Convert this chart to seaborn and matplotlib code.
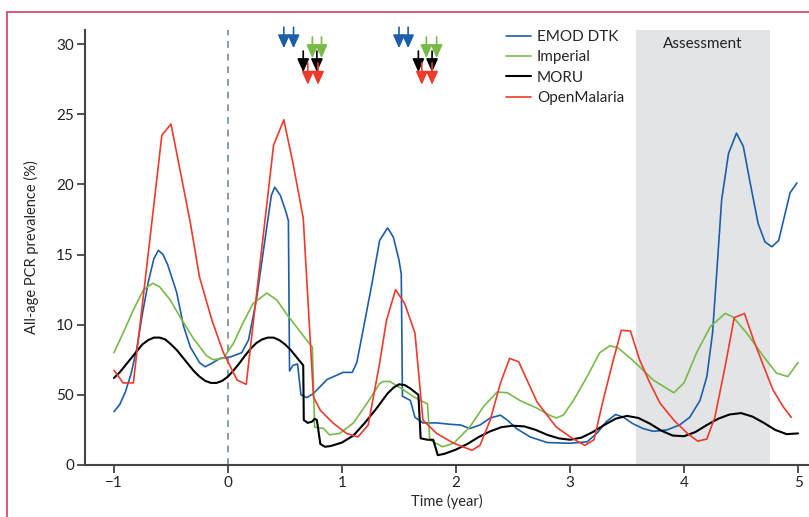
import matplotlib
matplotlib.use("Agg")
import matplotlib.pyplot as plt
import seaborn as sns
import pandas as pd
from matplotlib.lines import Line2D

# --- data ---
emod_x = [-1.0, -0.95, -0.9, -0.85, -0.8, -0.75, -0.7, -0.65, -0.61, -0.57, -0.53, -0.45, -0.39,
          -0.33, -0.25, -0.2, -0.13, -0.07, 0.02, 0.12, 0.18, 0.25, 0.32, 0.38, 0.41, 0.46, 0.51,
          0.53, 0.54, 0.57, 0.61, 0.64, 0.69, 0.75, 0.87, 1.01, 1.09, 1.13, 1.18, 1.26, 1.33,
          1.40, 1.45, 1.50, 1.52, 1.53, 1.6, 1.64, 1.71, 1.83, 1.95, 2.04, 2.12, 2.21, 2.30,
          2.39, 2.45, 2.53, 2.65, 2.80, 3.0, 3.15, 3.24, 3.32, 3.40, 3.47, 3.55, 3.64, 3.73,
          3.85, 3.96, 4.05, 4.14, 4.20, 4.25, 4.29, 4.33, 4.39, 4.46, 4.52, 4.58, 4.65, 4.71,
          4.77, 4.83, 4.88, 4.93, 4.99]
emod_y = [3.8, 4.3, 5.2, 6.5, 8.3, 10.8, 13.0, 14.7, 15.3, 15.0, 14.3, 12.3, 9.9,
          8.4, 7.3, 7.0, 7.3, 7.6, 7.7, 8.0, 8.9, 11.8, 15.8, 19.2, 19.8, 19.2, 18.0,
          17.4, 6.7, 7.1, 7.2, 5.0, 4.8, 5.1, 6.1, 6.6, 6.6, 7.3, 9.4, 12.8, 16.0,
          16.9, 16.25, 14.6, 13.6, 4.9, 4.6, 3.4, 3.0, 3.0, 2.9, 2.85, 2.6, 2.85, 3.35,
          3.55, 3.2, 2.6, 2.0, 1.6, 1.55, 1.65, 2.3, 3.1, 3.6, 3.4, 2.95, 2.6, 2.4,
          2.5, 2.85, 3.4, 4.6, 6.3, 9.4, 14.1, 18.9, 22.2, 23.65, 22.7, 20.1, 17.2, 15.9,
          15.55, 16.0, 17.7, 19.4, 20.1]

imperial_x = [-1.0, -0.92, -0.83, -0.74, -0.66, -0.6, -0.51, -0.42, -0.31, -0.19, -0.13, -0.04,
              0.05, 0.13, 0.22, 0.34, 0.43, 0.51, 0.60, 0.69, 0.74, 0.76, 0.84, 0.89, 0.98,
              1.10, 1.22, 1.33, 1.36, 1.42, 1.54, 1.63, 1.75, 1.77, 1.88, 1.98, 2.12, 2.24,
              2.36, 2.45, 2.56, 2.71, 2.82, 2.88, 2.94, 3.03, 3.15, 3.26, 3.35, 3.42, 3.53,
              3.61, 3.73, 3.82, 3.91, 4.0, 4.11, 4.23, 4.36, 4.43, 4.55, 4.70, 4.81, 4.91, 5.0]
imperial_y = [8.0, 9.4, 11.05, 12.5, 12.95, 12.7, 11.8, 10.55, 9.1, 7.8, 7.5, 7.6,
              8.7, 10.1, 11.5, 12.25, 11.75, 10.8, 9.85, 8.9, 8.4, 2.7, 2.6, 2.15, 2.25,
              3.0, 4.4, 5.8, 5.95, 5.95, 5.35, 4.85, 4.35, 1.8, 1.3, 1.55, 2.7, 4.15,
              5.2, 5.15, 4.6, 4.05, 3.55, 3.35, 3.55, 4.6, 6.3, 8.0, 8.5, 8.35, 7.6,
              7.0, 6.05, 5.6, 5.15, 5.85, 8.0, 9.85, 10.8, 10.55, 9.4, 7.7, 6.55, 6.3, 7.3]

moru_x = [-1.0, -0.95, -0.9, -0.85, -0.8, -0.75, -0.7, -0.65, -0.6, -0.55, -0.5, -0.45, -0.4,
          -0.35, -0.3, -0.25, -0.2, -0.15, -0.1, -0.05, 0.0, 0.05, 0.1, 0.15, 0.2, 0.25, 0.3,
          0.35, 0.4, 0.45, 0.5, 0.55, 0.6, 0.66, 0.665, 0.7, 0.74, 0.76, 0.78, 0.81, 0.85, 0.9,
          1.0, 1.1, 1.2, 1.3, 1.4, 1.45, 1.5, 1.55, 1.6, 1.67, 1.69, 1.75, 1.8, 1.84, 1.9,
          2.0, 2.1, 2.2, 2.3, 2.4, 2.5, 2.6, 2.7, 2.8, 2.9, 3.0, 3.1, 3.2, 3.3, 3.4, 3.5,
          3.6, 3.7, 3.8, 3.9, 4.0, 4.1, 4.2, 4.3, 4.4, 4.5, 4.6, 4.7, 4.8, 4.9, 5.0]
moru_y = [6.2, 6.6, 7.1, 7.6, 8.1, 8.6, 8.9, 9.08, 9.08, 8.95, 8.6, 8.2, 7.7,
          7.2, 6.7, 6.3, 6.0, 5.85, 5.85, 6.0, 6.3, 6.75, 7.25, 7.8, 8.3, 8.7, 8.95,
          9.08, 9.08, 8.9, 8.6, 8.2, 7.7, 7.1, 3.2, 3.0, 3.1, 3.3, 3.2, 1.5, 1.3, 1.35,
          1.6, 2.1, 3.0, 4.0, 5.1, 5.5, 5.75, 5.7, 5.45, 5.0, 1.9, 1.8, 1.8, 0.7, 0.8,
          1.1, 1.5, 2.0, 2.4, 2.7, 2.8, 2.75, 2.5, 2.15, 1.9, 1.8, 1.95, 2.35, 2.85, 3.3, 3.5,
          3.35, 2.95, 2.45, 2.1, 2.05, 2.35, 2.85, 3.3, 3.6, 3.7, 3.45, 3.0, 2.5, 2.2, 2.25]

om_x = [-1.0, -0.92, -0.83, -0.58, -0.50, -0.42, -0.33, -0.25, -0.14, -0.04, 0.08, 0.16,
        0.40, 0.49, 0.57, 0.66, 0.75, 0.81, 0.92, 1.04, 1.14, 1.23, 1.33, 1.39, 1.47, 1.55,
        1.64, 1.71, 1.83, 1.98, 2.14, 2.21, 2.30, 2.39, 2.47, 2.55, 2.71, 2.88, 3.03, 3.13,
        3.21, 3.29, 3.38, 3.45, 3.53, 3.61, 3.70, 3.79, 3.91, 4.03, 4.12, 4.20, 4.27, 4.36,
        4.44, 4.53, 4.61, 4.70, 4.78, 4.87, 4.94]
om_y = [6.75, 5.85, 5.85, 23.5, 24.3, 21.0, 17.25, 13.4, 10.3, 8.0, 6.05, 5.75,
        22.8, 24.6, 21.5, 17.6, 4.85, 3.9, 3.0, 2.25, 2.0, 2.85, 7.25, 10.3, 12.5, 11.5,
        9.4, 3.2, 2.25, 1.55, 1.05, 1.4, 3.2, 5.85, 7.6, 7.35, 4.5, 2.7, 1.85, 1.4,
        1.8, 4.6, 7.5, 9.6, 9.55, 7.5, 5.85, 4.4, 3.2, 2.25, 1.7, 1.85, 3.4, 7.0,
        10.5, 10.8, 8.9, 7.0, 5.35, 4.15, 3.4]

# intervention times marked with arrows
emod_arrows = [0.49, 0.575, 1.5, 1.58]
imperial_arrows = [0.74, 0.82, 1.74, 1.83]
moru_arrows = [0.66, 0.78, 1.67, 1.79]
om_arrows = [0.70, 0.79, 1.70, 1.79]

assessment = (3.58, 4.75)
y_ticks = [0, 5, 10, 15, 20, 25, 30]
y_ticklabels = ["0", "50", "10", "15", "20", "25", "30"]
x_ticks = [-1, 0, 1, 2, 3, 4, 5]

models = ["EMOD DTK", "Imperial", "MORU", "OpenMalaria"]
colors = {"EMOD DTK": "#1d5ea8", "Imperial": "#79b94a",
          "MORU": "#000000", "OpenMalaria": "#ee3a2c"}

series = {"EMOD DTK": (emod_x, emod_y), "Imperial": (imperial_x, imperial_y),
          "MORU": (moru_x, moru_y), "OpenMalaria": (om_x, om_y)}

sns.set_theme(style="white")
plt.rcParams['font.family'] = ['Lato', 'DejaVu Sans']

fig = plt.figure(figsize=(8.09, 5.17), dpi=100)
ax = fig.add_axes([85 / 809, 52 / 517, 724 / 809, 435 / 517])

ax.axvspan(*assessment, color="#e3e4e6", lw=0, zorder=0)
ax.text(sum(assessment) / 2, 30.0, "Assessment", ha="center", va="center",
        fontsize=11, color="#222222")
ax.axvline(0, color="#8a9aa5", lw=1.4, ls=(0, (3.5, 3)), zorder=1)

for m in models:
    xs, ys = series[m]
    df = pd.DataFrame({"time": xs, "prev": ys})
    sns.lineplot(data=df, x="time", y="prev", color=colors[m], label=m,
                 lw=1.5 if m == "MORU" else 1.2, estimator=None, sort=False, ax=ax)

# arrows above the curves
arrow_rows = [(emod_arrows, colors["EMOD DTK"], 31.2, 29.7),
              (imperial_arrows, colors["Imperial"], 30.5, 29.0),
              (moru_arrows, colors["MORU"], 29.5, 28.0),
              (om_arrows, colors["OpenMalaria"], 28.65, 27.1)]
for xs, c, ytop, ytip in arrow_rows:
    for xv in xs:
        ax.annotate("", xy=(xv, ytip), xytext=(xv, ytop), annotation_clip=False,
                    arrowprops=dict(arrowstyle="-|>,head_length=0.8,head_width=0.36",
                                    mutation_scale=10, color=c, lw=1.2,
                                    shrinkA=0, shrinkB=0))

ax.set_xlim(-1.254, 5.096)
ax.set_ylim(0, 31)
ax.set_xticks(x_ticks)
ax.set_yticks(y_ticks)
ax.set_yticklabels(y_ticklabels)
ax.set_xlabel("Time (year)", fontsize=10.5, labelpad=3)
ax.set_ylabel("All-age PCR prevalence (%)", fontsize=10.5, labelpad=12)
ax.tick_params(axis="both", direction="out", length=6, width=1.2, color="#333333",
               labelsize=11, labelcolor="#222222", left=True, bottom=True, pad=2)
for s in ["top", "right"]:
    ax.spines[s].set_visible(False)
for s in ["left", "bottom"]:
    ax.spines[s].set_color("#444444")
    ax.spines[s].set_linewidth(1.5)

handles, labels = ax.get_legend_handles_labels()
ax.legend(handles, labels, loc="upper left", bbox_to_anchor=(0.582, 1.0), frameon=False,
          fontsize=11, handlelength=1.6, handletextpad=0.4, labelspacing=0.42,
          borderaxespad=0, borderpad=0)

# red frame of the journal panel
frame_c = "#d43d66"
fig.add_artist(Line2D([7 / 809, 1], [1 - 12 / 517] * 2, transform=fig.transFigure,
                      color=frame_c, lw=1.2))
fig.add_artist(Line2D([7 / 809] * 2, [0, 1 - 12 / 517], transform=fig.transFigure,
                      color=frame_c, lw=1.2))

fig.savefig("out.png", dpi=100)
